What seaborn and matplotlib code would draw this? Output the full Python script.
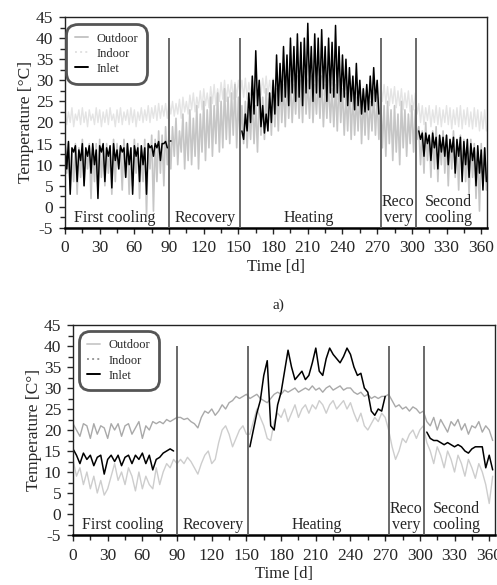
"""Outdoor, indoor and inlet temperature over one year, two panels."""

import matplotlib.pyplot as plt
import numpy as np
import pandas as pd
import seaborn as sns
from matplotlib.lines import Line2D
from matplotlib.ticker import MultipleLocator

# 3-day sampling grid (days 0..363)
DAYS = list(range(0, 366, 3))
PHASE_BOUNDS = [90, 151, 273, 304]
PHASE_LABELS = ["First cooling", "Recovery", "Heating", "Reco\nvery", "Second\ncooling"]
PHASE_LABEL_DAYS = [43, 121, 211, 288, 332]

# ---- panel a): hourly data, read as upper / lower swings per 3 days ----
TOP_OUT_HI = (
    [14, 15, 13, 15, 14, 16, 13, 15, 14, 15, 16, 14, 15, 13, 16, 15, 14, 16, 15, 14,
     16, 15, 13, 16, 15, 17, 16, 18, 17, 19, 18]
    + [19, 21, 18, 22, 20, 23, 21, 24, 22, 25, 23, 26, 24, 27, 25, 28, 26, 27, 29, 26]
    + [24, 25, 23, 26, 24, 27, 26, 28, 27, 29, 28, 30, 29, 31, 30, 29, 31, 30, 32, 30,
       31, 29, 30, 31, 29, 30, 28, 29, 30, 28, 27, 29, 27, 26, 28, 26, 27, 25, 27, 26]
    + [26, 24, 25, 23, 24, 22, 25, 23, 22, 24, 23]
    + [19, 18, 20, 17, 18, 19, 16, 18, 17, 16, 18, 15, 17, 16, 14, 16, 15, 13, 15, 14]
)
TOP_OUT_LO = (
    [8, 4, 6, 3, 7, 5, 9, 2, 6, 4, 7, 5, 8, 3, 6, 9, 4, 7, 3, 5,
     8, 2, 6, -2, 9, -1, 6, 8, 5, 10, 9]
    + [12, 10, 13, 9, 11, 10, 12, 9, 13, 11, 14, 12, 15, 13, 14, 16, 15, 17, 14, 16]
    + [15, 14, 16, 15, 13, 17, 16, 18, 17, 19, 18, 20, 19, 21, 20, 22, 21, 20, 22, 21,
       20, 22, 21, 19, 21, 20, 19, 18, 20, 17, 18, 16, 17, 18, 15, 17, 16, 18, 17, 16]
    + [14, 12, 15, 11, 13, 10, 14, 12, 15, 13, 16]
    + [10, 8, 11, 7, 9, 6, 10, 8, 5, 9, 7, 4, 8, 6, 3, 7, 2, -1, 5, 4]
)
TOP_IN_HI = (
    [23, 22.5, 23.5, 22, 23, 23.5, 22.5, 23, 22, 23.5, 23, 22.5, 23, 23.5, 22, 23,
     23.5, 22.5, 23, 23.5, 23, 22.5, 23.5, 23, 24, 23.5, 24, 24.5, 24, 24.5, 25]
    + [25, 24.5, 25.5, 26, 25, 26.5, 27, 26, 27.5, 28, 27, 28.5, 29, 28, 29.5, 30,
       29, 30, 29.5, 30]
    + [30, 30.5, 29.5, 30, 31, 30, 30.5, 31, 30, 30.5, 31, 30, 31, 30.5, 31.5, 30.5,
       31, 30, 31, 30.5, 31, 30, 30.5, 31, 30, 30.5, 29.5, 30, 29, 30, 29.5, 28.5,
       29, 28, 29, 28.5, 28, 29, 28.5, 29]
    + [29.5, 29, 28.5, 28, 28.5, 27.5, 28, 27, 27.5, 26.5, 27]
    + [24.5, 24, 23.5, 24, 23, 24, 23.5, 23, 24, 23.5, 23, 23.5, 24, 23, 23.5, 22.5,
       23.5, 23, 22.5, 23]
)
TOP_IN_LO = (
    [19.5, 20, 19, 20.5, 19.5, 20, 19, 20.5, 19.5, 20, 19, 20, 19.5, 20.5, 19, 20,
     19.5, 20.5, 19.5, 20, 19, 20.5, 20, 20.5, 20, 21, 20.5, 21, 21.5, 21, 22]
    + [21.5, 22, 21, 22.5, 22, 23, 22.5, 23.5, 23, 24, 23.5, 24.5, 24, 25, 25.5, 25,
       26, 25.5, 26, 26.5]
    + [26, 25.5, 26.5, 26, 25.5, 26.5, 27, 26.5, 27, 26.5, 27.5, 27, 26.5, 27.5, 27,
       26.5, 27.5, 27, 26.5, 27, 27.5, 26.5, 27, 26.5, 27, 26, 26.5, 25.5, 26, 25.5,
       25, 24.5, 25, 24, 24.5, 24, 24.5, 23.5, 24, 24.5]
    + [25, 24.5, 24, 24.5, 23.5, 24, 23, 23.5, 22.5, 23, 22]
    + [20, 19.5, 20.5, 19, 20, 19.5, 19, 20, 19.5, 18.5, 19.5, 19, 18.5, 19.5, 19,
       18.5, 19, 18, 18.5, 18]
)
NA = np.nan
TOP_INLET_HI = (
    [15.5, 15.5, 14, 14.5, 13.5, 15, 14, 14.5, 15, 13.5, 14.5, 15, 14, 14.5, 15, 13.5,
     14.5, 14, 15, 14, 14.5, 14, 14.5, 14, 15, 14.5, 15, 15.5, 15, 15.5, 15.5]
    + [NA] * 20
    + [18, 22, 27, 31, 37, 30, 24, 22, 27, 30, 36, 34, 38, 36, 40, 38, 41, 39, 40, 43.5,
       38, 41, 40, 42, 38, 40, 39, 43, 38, 36, 35, 33, 31, 34, 30, 28, 29, 31, 33, 30]
    + [NA] * 11
    + [18, 17.5, 17.5, 17, 17.5, 16.5, 17, 16.5, 17, 16, 16.5, 16, 16.5, 15.5, 16, 15,
       14, 14.5, 13.5, 14]
)
TOP_INLET_LO = (
    [9, 3, 13, 6, 11, 5, 12, 8, 10, 2, 13, 6, 12, 4.5, 11, 9, 13, 7, 10, 3, 12, 6, 10,
     3, 14, 12, 14, 11, 15, 14, 15.5]
    + [NA] * 20
    + [16, 18, 20, 22, 24, 19, 17.5, 18, 20, 22, 24, 25, 26, 24, 27, 25, 26, 24, 27, 28,
       25, 27, 26, 28, 25, 27, 26, 27, 25, 26, 24, 25, 23, 24, 22, 22.5, 23, 24, 25, 22]
    + [NA] * 11
    + [16, 12, 15, 11, 14, 9, 13, 12, 10, 13, 8, 12, 6, 10, 7, 11, 5, 8, 4, 6]
)

# ---- panel b): daily mean data, read every 3 days ----
BOT_OUT = (
    [13, 9, 11, 7, 10, 6, 9, 5, 8, 4.5, 6, 9, 12, 8, 10, 7, 11, 9, 5.5, 10, 6, 9, 7,
     6, 11, 7, 10, 12, 11, 13, 12]
    + [13, 12, 13.5, 12.5, 11, 9.5, 12, 14, 15, 12, 13, 17, 20, 21, 19, 16, 18, 20,
       21, 19]
    + [19, 22, 25, 23, 21, 18, 17.5, 22, 24, 23, 25, 22, 24, 26, 23, 25, 26, 24, 26,
       25, 27, 26, 24, 26, 27, 25, 26, 27, 25, 26.5, 24, 22, 24, 21, 20, 21.5, 23, 22,
       24, 23]
    + [20, 16, 13, 15, 18, 17, 19, 20, 18, 20, 21]
    + [17, 15, 12, 16, 14, 11, 15, 13, 10, 14, 12, 9, 13, 11, 8.5, 12, 10, 7, 2.5, 9]
)
BOT_IN = (
    [21.5, 20, 18.5, 21.5, 21, 18, 21.5, 19, 21, 20.5, 18, 21.5, 20, 21.5, 18.5, 21,
     21.5, 19, 20.5, 22, 18, 21, 20, 22, 21.5, 22, 21.5, 22.5, 22, 22.5, 23]
    + [23, 22.5, 22.8, 22, 21.5, 20.5, 23, 24.5, 24, 25, 23.5, 24.5, 26, 25, 26.5, 27,
       28, 27.5, 28, 28.5]
    + [27.5, 28, 28.5, 27.5, 27, 26.5, 27.5, 28.5, 29, 28.5, 29.5, 29, 29.5, 30, 29,
       29.5, 30, 29.5, 30.5, 29.5, 30, 29, 30, 30.5, 29.5, 30, 30.5, 29.5, 30, 30, 29,
       28.5, 29, 28, 28.5, 27.5, 28, 27.5, 28, 28]
    + [28.5, 27, 25.5, 26, 25, 25.5, 24.5, 25.5, 25, 24, 24.5]
    + [22, 21, 23, 20, 22.5, 21, 19.5, 22, 21, 22.5, 20, 21.5, 19, 21, 20.5, 22, 19.5,
       21, 20, 17.5]
)
BOT_INLET = (
    [15.5, 14, 12, 14.5, 13, 14, 11.5, 13.5, 14, 9.5, 13, 14, 12.5, 14, 11.5, 13.5, 14,
     12, 14, 13, 14.5, 12, 14, 10.5, 13, 13.5, 14.5, 15, 15.5, 15, 15.5]
    + [NA] * 20
    + [16, 20, 24, 27, 33, 36.5, 21, 20, 26, 29, 34, 39, 35, 32, 33, 34, 32, 33, 36,
       39.5, 34, 33, 37, 39.5, 38, 37, 36, 37.5, 39.5, 38, 35, 33, 33.5, 30, 29, 24.5,
       23.5, 25, 24.5, 28]
    + [NA] * 11
    + [19.5, 18, 17.5, 17.5, 17, 16.5, 17, 16.5, 16, 16.5, 16, 15, 14.5, 15.5, 16, 16,
       16, 11, 14, 10.5]
)


def zigzag(days, hi, lo):
    days = np.asarray(days, dtype=float)
    df = pd.DataFrame(
        {
            "day": np.concatenate([days, days + 1.5]),
            "temp": np.concatenate([hi, lo]),
            "phase": np.concatenate([np.digitize(days, PHASE_BOUNDS)] * 2),
        }
    )
    return df.dropna().sort_values("day")


def daily(days, values):
    df = pd.DataFrame(
        {"day": days, "temp": values, "phase": np.digitize(days, PHASE_BOUNDS)}
    )
    return df.dropna()


def style_axes(ax, ylabel):
    ax.set_xlim(0, 365)
    ax.set_ylim(-5, 45)
    ax.xaxis.set_major_locator(MultipleLocator(30))
    ax.xaxis.set_minor_locator(MultipleLocator(15))
    ax.yaxis.set_major_locator(MultipleLocator(5))
    ax.yaxis.set_minor_locator(MultipleLocator(2.5))
    ax.tick_params(which="major", direction="out", length=4.5, width=1,
                   labelsize=12.5)
    ax.tick_params(which="minor", direction="out", length=3.5, width=1)
    ax.tick_params(axis="x", which="major", pad=4.5)
    ax.tick_params(axis="y", which="major", pad=4)
    ax.set_xlabel("Time [d]", fontsize=12, labelpad=2)
    ax.set_ylabel(ylabel, fontsize=12.5, labelpad=1)
    for side in ["top", "right", "left"]:
        ax.spines[side].set_visible(True)
        ax.spines[side].set_linewidth(1)
        ax.spines[side].set_color("#222222")
    ax.spines["bottom"].set_linewidth(1.8)
    ax.spines["bottom"].set_color("black")
    ax.vlines(PHASE_BOUNDS, -5, 40, color="#5e5e5e", linewidth=1.3, zorder=4)
    for day, label in zip(PHASE_LABEL_DAYS, PHASE_LABELS):
        ax.text(day, -4.6, label, ha="center", va="bottom", fontsize=11.5,
                linespacing=1.0, zorder=5)


def add_legend(ax, colors, styles, anchor):
    handles = [
        Line2D([], [], color=c, linestyle=s, linewidth=1.4)
        for c, s in zip(colors, styles)
    ]
    leg = ax.legend(handles, ["Outdoor", "Indoor", "Inlet"], loc="upper left",
                    bbox_to_anchor=anchor, fontsize=9, handlelength=1.0,
                    handletextpad=0.7, borderpad=0.45, labelspacing=0.25,
                    borderaxespad=0.2, frameon=True, fancybox=True)
    frame = leg.get_frame()
    frame.set_boxstyle("round,pad=0.25,rounding_size=0.9")
    frame.set_edgecolor("#555555")
    frame.set_linewidth(2)
    frame.set_facecolor("white")
    frame.set_alpha(1)


sns.set_theme(style="ticks")
plt.rcParams["font.family"] = ["Liberation Serif", "DejaVu Serif"]
plt.rcParams["axes.unicode_minus"] = False

fig = plt.figure(figsize=(4.97, 5.85), dpi=100)
ax_top = fig.add_axes([65 / 497, 1 - 228 / 585, 422 / 497, 211 / 585])
ax_bot = fig.add_axes([73 / 497, 1 - 535 / 585, 422 / 497, 210 / 585])

# panel a)
top_in = zigzag(DAYS, TOP_IN_HI, TOP_IN_LO)
top_out = zigzag(DAYS, TOP_OUT_HI, TOP_OUT_LO)
top_inlet = zigzag(DAYS, TOP_INLET_HI, TOP_INLET_LO)
sns.lineplot(data=top_in, x="day", y="temp", color="#e4e4e4", linewidth=1.0,
             estimator=None, sort=False, ax=ax_top)
sns.lineplot(data=top_out, x="day", y="temp", color="#c6c6c6", linewidth=1.2,
             estimator=None, sort=False, ax=ax_top)
sns.lineplot(data=top_inlet, x="day", y="temp", units="phase", color="black",
             linewidth=1.1, estimator=None, sort=False, ax=ax_top)
style_axes(ax_top, "Temperature [°C]")
add_legend(ax_top, ["#c6c6c6", "#e2e2e2", "black"], ["-", ":", "-"],
           (0.005, 0.965))

# panel b)
bot_out = daily(DAYS, BOT_OUT)
bot_in = daily(DAYS, BOT_IN)
bot_inlet = daily(DAYS, BOT_INLET)
sns.lineplot(data=bot_out, x="day", y="temp", color="#cdcdcd", linewidth=1.0,
             estimator=None, ax=ax_bot)
sns.lineplot(data=bot_in, x="day", y="temp", color="#a9a9a9", linewidth=1.0,
             estimator=None, ax=ax_bot)
sns.lineplot(data=bot_inlet, x="day", y="temp", units="phase", color="black",
             linewidth=1.1, estimator=None, ax=ax_bot)
style_axes(ax_bot, "Temperature [C°]")
add_legend(ax_bot, ["#cdcdcd", "#9a9a9a", "black"], ["-", ":", "-"],
           (0.015, 0.97))

fig.text(278 / 497, 1 - 305 / 585, "a)", ha="center", va="center", fontsize=11)

fig.savefig("out.png", dpi=100)
